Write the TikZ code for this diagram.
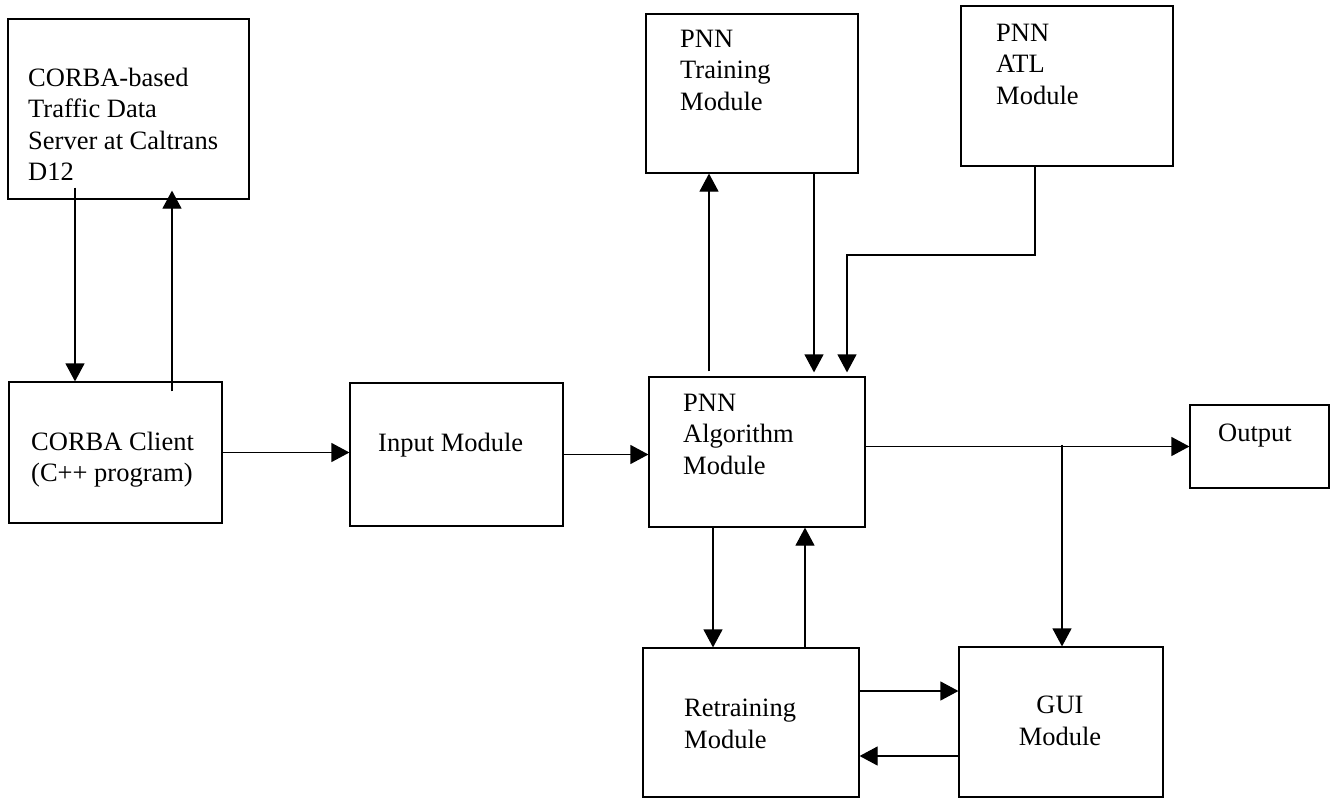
\documentclass[tikz,border=0pt]{standalone}
\usepackage{fontspec}
\setmainfont{Liberation Serif}
\usetikzlibrary{arrows.meta,fit,calc}
\begin{document}
\begin{tikzpicture}[x=1pt,y=-1pt,
  box/.style={draw, line width=1.2pt, inner sep=0pt},
  lbl/.style={inner sep=0pt, align=left, font=\fontsize{26.5}{31.3}\selectfont},
  conn/.style={line width=1.2pt},
  arr/.style={conn, -{Triangle[width=19pt,length=18pt]}}]
\useasboundingbox (0,0) rectangle (1333,800);
\fill[white] (0,0) rectangle (1333,800);

% module boxes
\node[box, fit={(8,19) (249,199)}]     (srv) {};
\node[box, fit={(9,382) (222,523)}]    (cli) {};
\node[box, fit={(350,383) (563,526)}]  (inp) {};
\node[box, fit={(649,377) (865,527)}]  (alg) {};
\node[box, fit={(646,14) (858,173)}]   (trn) {};
\node[box, fit={(961,6) (1173,166)}]   (atl) {};
\node[box, fit={(1190,405) (1329,488)}] (out) {};
\node[box, fit={(643,648) (859,797)}]  (ret) {};
\node[box, fit={(959,647) (1163,797)}] (gui) {};

% labels
\node[lbl, anchor=north west] (srvT) at (28,68) {CORBA-based\\Traffic Data\\Server at Caltrans\\D12};
\node[lbl, anchor=north west] (cliT) at (31,432) {CORBA Client\\(C++ program)};
\node[lbl, anchor=base west]  (inpT) at (378,451) {Input Module};
\node[lbl, anchor=north west] (algT) at (683,394) {PNN\\Algorithm\\Module};
\node[lbl, anchor=north west] (trnT) at (680,30) {PNN\\Training\\Module};
\node[lbl, anchor=north west] (atlT) at (996,24) {PNN\\ATL\\Module};
\node[lbl, anchor=base west]  (outT) at (1218,441) {Output};
\node[lbl, anchor=north west] (retT) at (684,699) {Retraining\\Module};
\node[lbl, anchor=north, align=center] (guiT) at (1060,696) {GUI\\Module};

% connectors
\draw[arr] ($(srv.south -| 75,0)+(0,-12)$) -- (cli.north -| 75,0);
\draw[arr] ($(cli.north -| 172,0)+(0,10)$) -- ($(srv.south -| 172,0)+(0,-9)$);
\draw[arr] (cli.east) -- (cli.east -| inp.west);
\draw[arr] (inp.east) -- (inp.east -| alg.west);
\draw[arr] ($(alg.north -| 709,0)+(0,-5)$) -- (trn.south -| 709,0);
\draw[arr] (trn.south -| 814,0) -- ($(alg.north -| 814,0)+(0,-4)$);
\draw[arr] (atl.south -| 1035,0) -- (1035,255) -| ($(alg.north -| 847,0)+(0,-4)$);
\draw[arr] (alg.east |- out.west) -- (out.west);
\draw[arr] ($(out.west -| 1062,0)+(0,-2)$) -- (gui.north -| 1062,0);
\draw[arr] (alg.south -| 713,0) -- (ret.north -| 713,0);
\draw[arr] (ret.north -| 805,0) -- (alg.south -| 805,0);
\draw[arr] (ret.east |- 0,691) -- (gui.west |- 0,691);
\draw[arr] (gui.west |- 0,756) -- (ret.east |- 0,756);
\end{tikzpicture}
\end{document}
